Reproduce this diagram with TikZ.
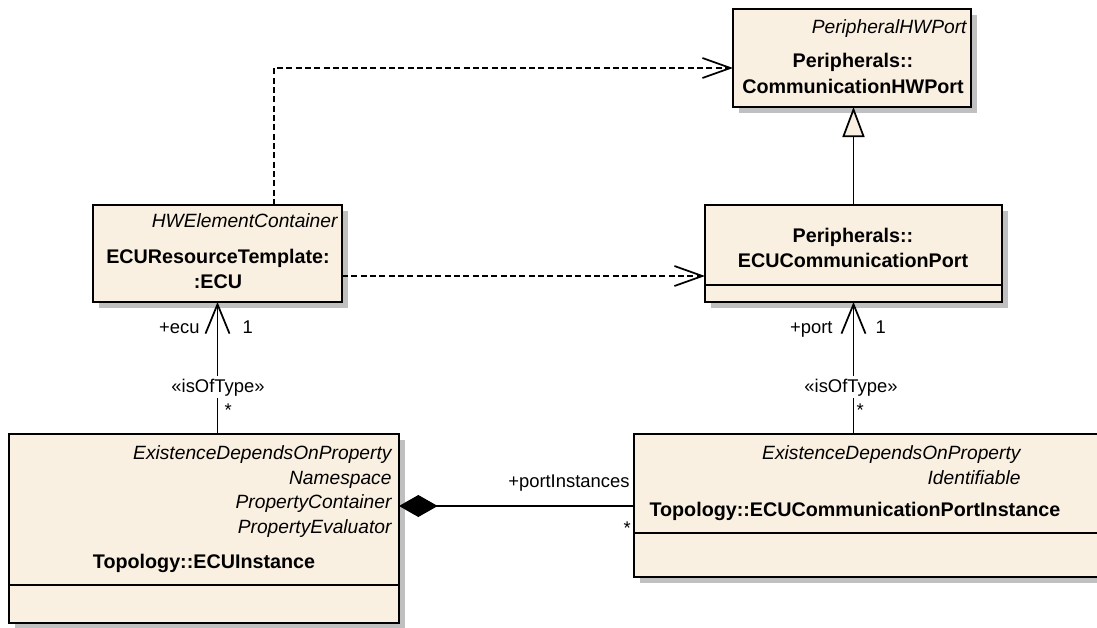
\documentclass[tikz,border=0pt]{standalone}
\usepackage{fontspec}
\setmainfont{Liberation Sans}
\usetikzlibrary{arrows.meta,calc,backgrounds}

\definecolor{classfill}{RGB}{250,240,225}
\definecolor{shadowgray}{RGB}{192,192,192}
\tikzset{every picture/.style={line width=0.75pt}}
\tikzset{
  umlbox/.style={draw, line width=1.5pt, fill=classfill, inner sep=0pt, outer sep=0pt},
  stereo/.style={font=\fontsize{14.4}{17}\selectfont\itshape, inner sep=0pt},
  cname/.style={font=\fontsize{14.8}{17}\selectfont\bfseries, inner sep=0pt},
  lbl/.style={font=\fontsize{13.8}{17}\selectfont, inner sep=0pt},
  dep/.style={line width=1.3pt, dash pattern=on 4.5pt off 2.5pt, -{Straight Barb[length=21pt,width=15pt]}},
  assoc/.style={line width=1.3pt, -{Straight Barb[length=22pt,width=18pt]}},
  gen/.style={line width=1.3pt, -{Triangle[length=22.5pt,width=16.5pt,fill=classfill]}},
  comp/.style={line width=1.3pt, -{Diamond[length=29pt,width=16.5pt]}}
}

\begin{document}
\begin{tikzpicture}[x=0.75pt,y=0.75pt,yscale=-1,xscale=1]
\useasboundingbox (0,0) rectangle (1097,628);
\clip (0,0) rectangle (1097,628);

%Classes
\node[umlbox, minimum width=178.5pt, minimum height=73.5pt] (hwPort) at (852,58) {};
\node[umlbox, minimum width=186.75pt, minimum height=72.75pt] (ecuTpl) at (217.5,253.5) {};
\node[umlbox, minimum width=222.75pt, minimum height=72.75pt] (ecuPort) at (853.5,253.5) {};
\node[umlbox, minimum width=292.5pt, minimum height=141.75pt] (ecuInst) at (204,528.5) {};
\node[umlbox, minimum width=360pt, minimum height=107.25pt] (portInst) at (874,505.5) {};

%Shadows
\begin{scope}[on background layer]
\foreach \cls in {hwPort,ecuTpl,ecuPort,ecuInst,portInst}
  \fill[shadowgray] ($(\cls.north west)+(6,6)$) rectangle ($(\cls.south east)+(6,6)$);
\end{scope}

%Compartment lines
\draw[line width=1.5pt] (ecuPort.west |- 0,285) -- (ecuPort.east |- 0,285);
\draw[line width=1.5pt] (ecuInst.west |- 0,585) -- (ecuInst.east |- 0,585);
\draw[line width=1.5pt] (portInst.west |- 0,533) -- (portInst.east |- 0,533);

% Text Node
\node[stereo, anchor=base east] (hwPortSt) at (967,33) {PeripheralHWPort};
\node[cname, anchor=base] (hwPortN1) at (853,67) {Peripherals::};
\node[cname, anchor=base] (hwPortN2) at (853,93) {CommunicationHWPort};
% Text Node
\node[stereo, anchor=base east] (ecuTplSt) at (338,227) {HWElementContainer};
\node[cname, anchor=base] (ecuTplN1) at (218,263) {ECUResourceTemplate:};
\node[cname, anchor=base] (ecuTplN2) at (218,288) {:ECU};
% Text Node
\node[cname, anchor=base] (ecuPortN1) at (853,242) {Peripherals::};
\node[cname, anchor=base] (ecuPortN2) at (853,267) {ECUCommunicationPort};
% Text Node
\node[stereo, anchor=base east] (ecuInstSt1) at (392,459) {ExistenceDependsOnProperty};
\node[stereo, anchor=base east] (ecuInstSt2) at (392,484) {Namespace};
\node[stereo, anchor=base east] (ecuInstSt3) at (392,508) {PropertyContainer};
\node[stereo, anchor=base east] (ecuInstSt4) at (392,533) {PropertyEvaluator};
\node[cname, anchor=base] (ecuInstN) at (204,568) {Topology::ECUInstance};
% Text Node
\node[stereo, anchor=base east] (portInstSt1) at (1021,459) {ExistenceDependsOnProperty};
\node[stereo, anchor=base east] (portInstSt2) at (1021,484) {Identifiable};
\node[cname, anchor=base west] (portInstN) at (649,516) {Topology::ECUCommunicationPortInstance};

%Dependencies
\coordinate (depBend) at (274,68);
\draw[dep] (ecuTpl.north -| depBend) -- (depBend) -- (hwPort.west |- depBend);
\draw[dep] (ecuTpl.east |- 0,276) -- (ecuPort.west |- 0,276);

%Generalization
\draw[gen] (ecuPort.north) -- (hwPort.south -| ecuPort.north);

%Associations
\draw[assoc] (ecuInst.north -| ecuTpl.south) -- (ecuTpl.south);
\draw[assoc] (portInst.north -| ecuPort.south) -- (ecuPort.south);
\draw[comp] (portInst.west |- 0,506) -- (ecuInst.east |- 0,506);

% Text Node
\node[lbl, anchor=base east] (ecuRole) at (200,333) {+ecu};
\node[lbl, anchor=base west] (ecuMult) at (242,333) {1};
\node[lbl, anchor=base, fill=white, inner ysep=2pt] (ecuType) at (218,392) {«isOfType»};
\node[lbl, anchor=base west] (ecuStar) at (224,416) {*};
% Text Node
\node[lbl, anchor=base east] (portRole) at (833,333) {+port};
\node[lbl, anchor=base west] (portMult) at (875,333) {1};
\node[lbl, anchor=base, fill=white, inner ysep=2pt] (portType) at (851,392) {«isOfType»};
\node[lbl, anchor=base west] (portStar) at (856,416) {*};
% Text Node
\node[lbl, anchor=base east] (instRole) at (630,487) {+portInstances};
\node[lbl, anchor=base west] (instStar) at (623,534) {*};

\end{tikzpicture}
\end{document}
